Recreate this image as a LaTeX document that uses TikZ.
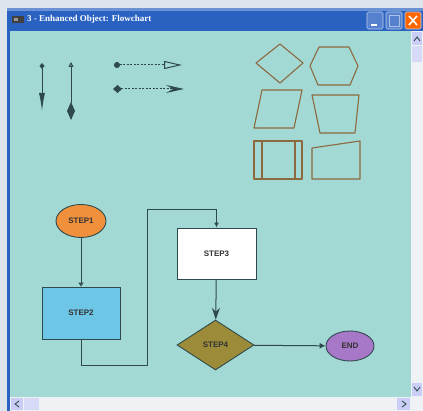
\documentclass[tikz,border=0pt]{standalone}
\usepackage{fontspec}
\setmainfont{Liberation Serif}
\setsansfont{Liberation Sans}
\usetikzlibrary{arrows.meta,shapes.geometric}
\definecolor{deskbg}{HTML}{DDE4EC}
\definecolor{titleblue}{HTML}{2A62C2}
\definecolor{canvas}{HTML}{A3D9D5}
\definecolor{barbg}{HTML}{EEF2F5}
\definecolor{outline}{HTML}{8C6A40}
\definecolor{ink}{HTML}{2E4A4C}
\definecolor{stepone}{HTML}{F0903C}
\definecolor{steptwo}{HTML}{6EC6E6}
\definecolor{stepfour}{HTML}{9C8C3A}
\definecolor{stepend}{HTML}{A878C8}
\tikzset{
  steplabel/.style={font=\sffamily\bfseries\fontsize{8}{9}\selectfont,text=black!80,draw=ink,line width=0.9pt,inner sep=0pt},
  link/.style={draw=ink,line width=1pt},
  shapeline/.style={draw=outline,line width=1.1pt,line join=round},
  winbtn/.style={draw=white!70!titleblue,line width=0.6pt,rounded corners=1.5pt}
}

\begin{document}
\begin{tikzpicture}[x=1pt,y=-1pt]
  % window frame
  \fill[deskbg] (0,0) rectangle (423,411);
  \useasboundingbox (0,0) rectangle (423,411);
  \fill[titleblue] (7,8) rectangle (423,411);
  \fill[titleblue!70!white] (7,8) rectangle (423,11);
  \fill[canvas] (10,31) rectangle (411,397);
  \fill[black!75] (12,16) rectangle (24,23);
  \fill[white!60!black] (14,18) rectangle (18,21);
  \node[anchor=west,text=white,font=\bfseries\fontsize{9}{10}\selectfont,inner sep=0pt] (title) at (27,19.5) {3 - Enhanced Object: Flowchart};
  \draw[winbtn,fill=titleblue!80!white] (367,12) rectangle (383,29);
  \fill[white] (371,24) rectangle (377,26);
  \draw[winbtn,fill=titleblue!80!white] (386,12) rectangle (402,29);
  \draw[white!60!titleblue,line width=0.6pt] (389,15) rectangle (399,26);
  \draw[winbtn,fill=orange!80!red] (405,12) rectangle (421,29);
  \draw[white,line width=1.6pt] (409,16) -- (417,25) (417,16) -- (409,25);

  % scroll bars
  \fill[barbg] (411,31) rectangle (423,411);
  \fill[barbg] (10,397) rectangle (411,411);
  \fill[blue!15!barbg] (412,32) rectangle (422,45);
  \fill[blue!10!barbg] (412,46) rectangle (422,62);
  \fill[blue!15!barbg] (412,383) rectangle (422,396);
  \fill[blue!15!barbg] (11,398) rectangle (23,410);
  \fill[blue!10!barbg] (24,398) rectangle (39,410);
  \fill[blue!15!barbg] (397,398) rectangle (410,410);
  \draw[ink,line width=0.9pt] (414,41) -- (417,37) -- (420,41);
  \draw[ink,line width=0.9pt] (414,387) -- (417,391) -- (420,387);
  \draw[ink,line width=0.9pt] (19,401) -- (15,404) -- (19,407);
  \draw[ink,line width=0.9pt] (402,401) -- (406,404) -- (402,407);

  % sample arrows
  \coordinate (a1) at (42,63);
  \coordinate (b1) at (42,111);
  \coordinate (a2) at (71,62);
  \coordinate (b2) at (71,120);
  \coordinate (c1) at (114,65);
  \coordinate (d1) at (182,65);
  \coordinate (c2) at (113,89);
  \coordinate (d2) at (184,89);
  \draw[link,{Diamond[length=6pt,width=5pt]}-{Latex[length=18pt,width=6pt]}] (a1) -- (b1);
  \draw[link,{Triangle[open,length=5pt,width=5pt]}-{Diamond[length=18pt,width=8pt]}] (a2) -- (b2);
  \draw[link,dashed,dash pattern=on 2pt off 1.5pt,{Circle[length=6pt]}-{Triangle[open,length=18pt,width=8pt]}] (c1) -- (d1);
  \draw[link,dashed,dash pattern=on 2pt off 1.5pt,{Diamond[length=9pt,width=8pt]}-{Stealth[length=18pt,width=8pt,inset=7pt]}] (c2) -- (d2);

  % shape palette
  \draw[shapeline] (256,63) -- (280,44) -- (303,63) -- (280,83) -- cycle;
  \draw[shapeline] (310,66) -- (319,47) -- (349,47) -- (358,66) -- (350,85) -- (318,85) -- cycle;
  \draw[shapeline] (262,90) -- (302,90) -- (294,128) -- (254,128) -- cycle;
  \draw[shapeline] (312,95) -- (359,95) -- (355,133) -- (320,133) -- cycle;
  \draw[shapeline] (254,141) rectangle (302,179);
  \draw[shapeline] (262,141) -- (262,179) (295,141) -- (295,179);
  \draw[shapeline] (312,148) -- (360,141) -- (360,179) -- (312,179) -- cycle;

  % flowchart
  \node[steplabel,ellipse,fill=stepone,minimum width=50pt,minimum height=33pt] (step1) at (81,221) {STEP1};
  \node[steplabel,rectangle,fill=steptwo,minimum width=78pt,minimum height=52pt] (step2) at (81,313) {STEP2};
  \node[steplabel,rectangle,fill=white,minimum width=79pt,minimum height=51pt] (step3) at (216.5,253.5) {STEP3};
  \node[steplabel,diamond,fill=stepfour,minimum width=77pt,minimum height=50pt] (step4) at (215.5,345) {STEP4};
  \node[steplabel,ellipse,fill=stepend,minimum width=48pt,minimum height=30pt] (stepend) at (350,346) {END};

  \draw[link,-{Triangle[open,length=4pt,width=5pt]}] (step1) -- (step2);
  \draw[link,-{Latex[length=5pt,width=5pt]}] (step2.south) |- (147,366) -- (147,210) -| (step3.north);
  \draw[link,-{Stealth[length=12pt,width=8pt,inset=4pt]}] (step3) -- (step4);
  \draw[link,-{Latex[length=6pt,width=6pt]}] (step4) -- (stepend);
\end{tikzpicture}
\end{document}
